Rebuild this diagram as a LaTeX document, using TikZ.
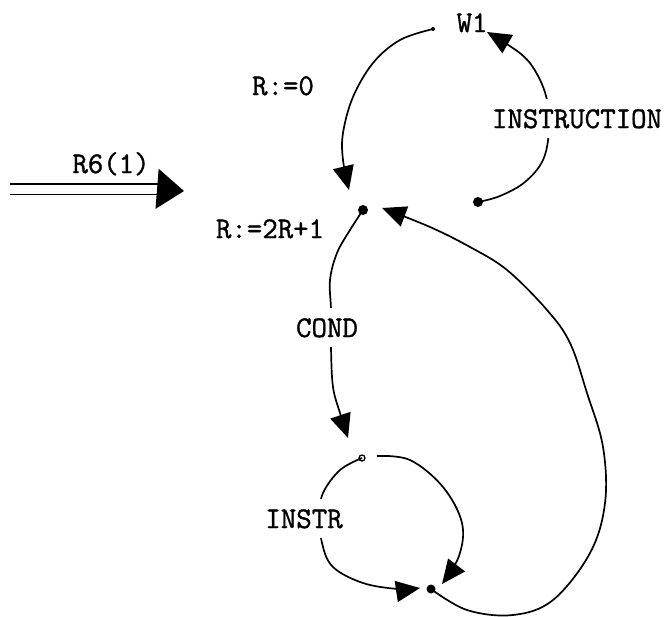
\documentclass[tikz,border=0pt]{standalone}
\usepackage{fontspec}
\newfontfamily\typefont{Latin Modern Mono}[FakeBold=1.2]
\usetikzlibrary{arrows.meta}
\begin{document}
\begin{tikzpicture}[x=1pt,y=-1pt,
  lbl/.style={font=\typefont\fontsize{30}{36}\selectfont, inner sep=0pt, anchor=base},
  gaplbl/.style={lbl, fill=white, inner sep=10pt},
  conn/.style={line width=1.7pt, -{Triangle[length=24pt,width=21pt]}},
  bigdot/.style={circle, fill, inner sep=0pt, minimum size=10pt},
  tinydot/.style={circle, fill, inner sep=0pt, minimum size=4pt},
  hollowdot/.style={circle, draw, line width=1.3pt, inner sep=0pt, minimum size=6pt}
]
\useasboundingbox (0,0) rectangle (669,616);

% states
\node[tinydot] (w1dot) at (433,29) {};
\node[bigdot] (cdot) at (363,210) {};
\node[bigdot] (idot) at (478,202) {};
\node[hollowdot] (sdot) at (362,458) {};
\node[bigdot, minimum size=9pt] (bdot) at (431,589) {};

% arrow tips
\coordinate (tipR0) at (349,190);
\coordinate (tipW1) at (487,32);
\coordinate (tipC) at (382,208);
\coordinate (tipCond) at (348,438);
\coordinate (tipL) at (420,588);
\coordinate (tipR) at (442,584);

% entry arrow
\coordinate (inS) at (10,189);
\coordinate (inM) at (159,189);
\coordinate (inT) at (184,191);
\draw[line width=1.7pt, double distance=9pt] (inS) -- (inM);
\draw[line width=1pt, -{Triangle[length=27pt,width=40pt]}] (inM) -- (inT);

% R:=0 arc
\draw[conn] plot[smooth, tension=0.6] coordinates
  {(w1dot) (400,40) (373,63) (353,97) (343,133) (343,160) (tipR0)};

% INSTRUCTION arc
\draw[conn] plot[smooth, tension=0.6] coordinates
  {(idot) (500,196) (525,182) (543,160) (549,130) (547,100) (537,74) (521,54) (tipW1)};

% COND arc
\draw[conn] plot[smooth, tension=0.6] coordinates
  {(cdot) (350,230) (337,253) (330,280) (331,310) (331,348) (333,387) (340,413) (tipCond)};

% INSTR left arc
\draw[conn] plot[smooth, tension=0.6] coordinates
  {(sdot) (340,470) (323,493) (320,515) (322,543) (333,567) (363,583) (398,589) (tipL)};

% INSTR right arc
\draw[conn] plot[smooth, tension=0.6] coordinates
  {(377,456) (410,460) (443,487) (462,523) (459,556) (tipR)};

% big return arc
\draw[conn] plot[smooth, tension=0.6] coordinates
  {(bdot) (467,610) (513,615) (553,600) (590,553) (605,503) (603,447) (587,393) (570,343) (547,310) (507,270) (470,247) (430,227) (tipC)};

% labels
\node[lbl] (lW1) at (472,32) {W1};
\node[lbl] (lR0) at (283,95) {R:=0};
\node[lbl] (lR6) at (111,173) {R6(1)};
\node[lbl] (lR21) at (270,238) {R:=2R+1};
\node[gaplbl] (lInstruction) at (577,128) {INSTRUCTION};
\node[gaplbl] (lCond) at (327,337) {COND};
\node[gaplbl] (lInstr) at (304,528) {INSTR};
\end{tikzpicture}
\end{document}
